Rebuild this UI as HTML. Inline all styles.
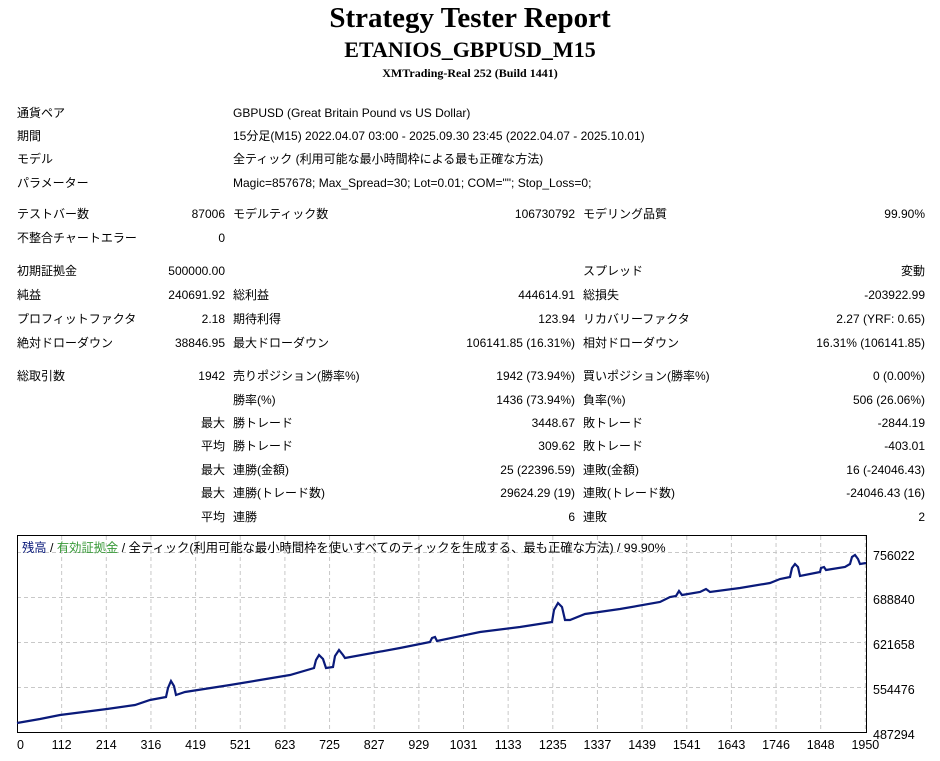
<!DOCTYPE html>
<html><head><meta charset="utf-8"><style>
body{margin:0;width:940px;height:761px;background:#fff;position:relative;font-family:"Liberation Sans","Noto Sans CJK JP",sans-serif;font-size:12px;color:#000;overflow:hidden}
.t{position:absolute;white-space:nowrap;line-height:14px}
.r{text-align:right}
.h{position:absolute;left:0;width:940px;text-align:center;font-family:"Liberation Serif",serif;font-weight:bold;white-space:nowrap}
</style></head><body>
<div class="h" style="top:2px;font-size:29px">Strategy Tester Report</div>
<div class="h" style="top:37px;font-size:22px">ETANIOS_GBPUSD_M15</div>
<div class="h" style="top:66px;font-size:12px">XMTrading-Real 252 (Build 1441)</div>

<div class="t" style="left:17px;top:106px">通貨ペア</div><div class="t" style="left:233px;top:106px">GBPUSD (Great Britain Pound vs US Dollar)</div>
<div class="t" style="left:17px;top:129px">期間</div><div class="t" style="left:233px;top:129px">15分足(M15) 2022.04.07 03:00 - 2025.09.30 23:45 (2022.04.07 - 2025.10.01)</div>
<div class="t" style="left:17px;top:152px">モデル</div><div class="t" style="left:233px;top:152px">全ティック (利用可能な最小時間枠による最も正確な方法)</div>
<div class="t" style="left:17px;top:176px">パラメーター</div><div class="t" style="left:233px;top:176px">Magic=857678; Max_Spread=30; Lot=0.01; COM=""; Stop_Loss=0;</div>

<div id="rows"></div>
<script>
const R=[
[207,"テストバー数","87006","モデルティック数","106730792","モデリング品質","99.90%"],
[231,"不整合チャートエラー","0","","","",""],
[264,"初期証拠金","500000.00","","","スプレッド","変動"],
[288,"純益","240691.92","総利益","444614.91","総損失","-203922.99"],
[312,"プロフィットファクタ","2.18","期待利得","123.94","リカバリーファクタ","2.27 (YRF: 0.65)"],
[336,"絶対ドローダウン","38846.95","最大ドローダウン","106141.85 (16.31%)","相対ドローダウン","16.31% (106141.85)"],
[369,"総取引数","1942","売りポジション(勝率%)","1942 (73.94%)","買いポジション(勝率%)","0 (0.00%)"],
[393,"","","勝率(%)","1436 (73.94%)","負率(%)","506 (26.06%)"],
[416,"","最大","勝トレード","3448.67","敗トレード","-2844.19"],
[439,"","平均","勝トレード","309.62","敗トレード","-403.01"],
[463,"","最大","連勝(金額)","25 (22396.59)","連敗(金額)","16 (-24046.43)"],
[486,"","最大","連勝(トレード数)","29624.29 (19)","連敗(トレード数)","-24046.43 (16)"],
[510,"","平均","連勝","6","連敗","2"]];
let h="";
for(const r of R){const y=r[0];
h+=`<div class="t" style="left:17px;top:${y}px">${r[1]}</div>`;
h+=`<div class="t r" style="right:715px;top:${y}px">${r[2]}</div>`;
h+=`<div class="t" style="left:233px;top:${y}px">${r[3]}</div>`;
h+=`<div class="t r" style="right:365px;top:${y}px">${r[4]}</div>`;
h+=`<div class="t" style="left:583px;top:${y}px">${r[5]}</div>`;
h+=`<div class="t r" style="right:15px;top:${y}px">${r[6]}</div>`;}
document.getElementById("rows").innerHTML=h;
</script>

<svg style="position:absolute;left:0;top:0" width="940" height="761">
<g stroke="#c8c8c8" stroke-dasharray="4,3" stroke-width="1">
<line x1="17" x2="866" y1="552.5" y2="552.5"/><line x1="17" x2="866" y1="597.5" y2="597.5"/><line x1="17" x2="866" y1="642.5" y2="642.5"/><line x1="17" x2="866" y1="687.5" y2="687.5"/>
<g id="vg"></g>
</g>
<rect x="17.5" y="535.5" width="849" height="197" fill="none" stroke="#000"/>
<path d="M17,723 L40,719 60,715 107,709 135,705 150,700 166,697 168,688 171,681 174,686 176,695 185,692 230,685 260,680 290,675 314,668 316,660 319,655 323,659 326,668 333,667 335,656 339,650 343,655 345,658 400,648 430,642 432,638 435,637 437,641 480,632 520,627 552,622 554,610 558,603 562,607 565,620 570,620 585,614 620,609 660,602 670,597 676,596 679,591 682,595 700,592 706,589 710,592 740,588 770,583 780,579 790,577 792,568 795,564 798,567 800,576 820,572 821,568 824,567 826,570 845,567 850,564 852,557 855,555 858,559 860,564 866,563" fill="none" stroke="#0a1a7a" stroke-width="2.2"/>
<g font-family="Liberation Sans, sans-serif" font-size="12.5" fill="#000" id="xl"></g>
<g font-family="Liberation Sans, sans-serif" font-size="12.5" fill="#000">
<text x="873" y="560">756022</text><text x="873" y="604">688840</text><text x="873" y="649">621658</text><text x="873" y="694">554476</text><text x="873" y="739">487294</text>
</g>
<text x="22" y="552" font-family="Liberation Sans, Noto Sans CJK JP, sans-serif" font-size="12.3"><tspan fill="#0a1a7a">残高</tspan> / <tspan fill="#3a9a3a">有効証拠金</tspan> / 全ティック(利用可能な最小時間枠を使いすべてのティックを生成する、最も正確な方法) / 99.90%</text>
</svg>
<script>
const labs=["0","112","214","316","419","521","623","725","827","929","1031","1133","1235","1337","1439","1541","1643","1746","1848","1950"];
let vg="",xl="";
labs.forEach((l,i)=>{const x=17+i*44.65;if(i>0)vg+=`<line x1="${x}" x2="${x}" y1="536" y2="732"/>`;
xl+=`<text x="${i==0?17:x}" y="749" text-anchor="${i==0?'start':'middle'}">${l}</text>`;});
document.getElementById("vg").innerHTML=vg;document.getElementById("xl").innerHTML=xl;
</script>
</body></html>
